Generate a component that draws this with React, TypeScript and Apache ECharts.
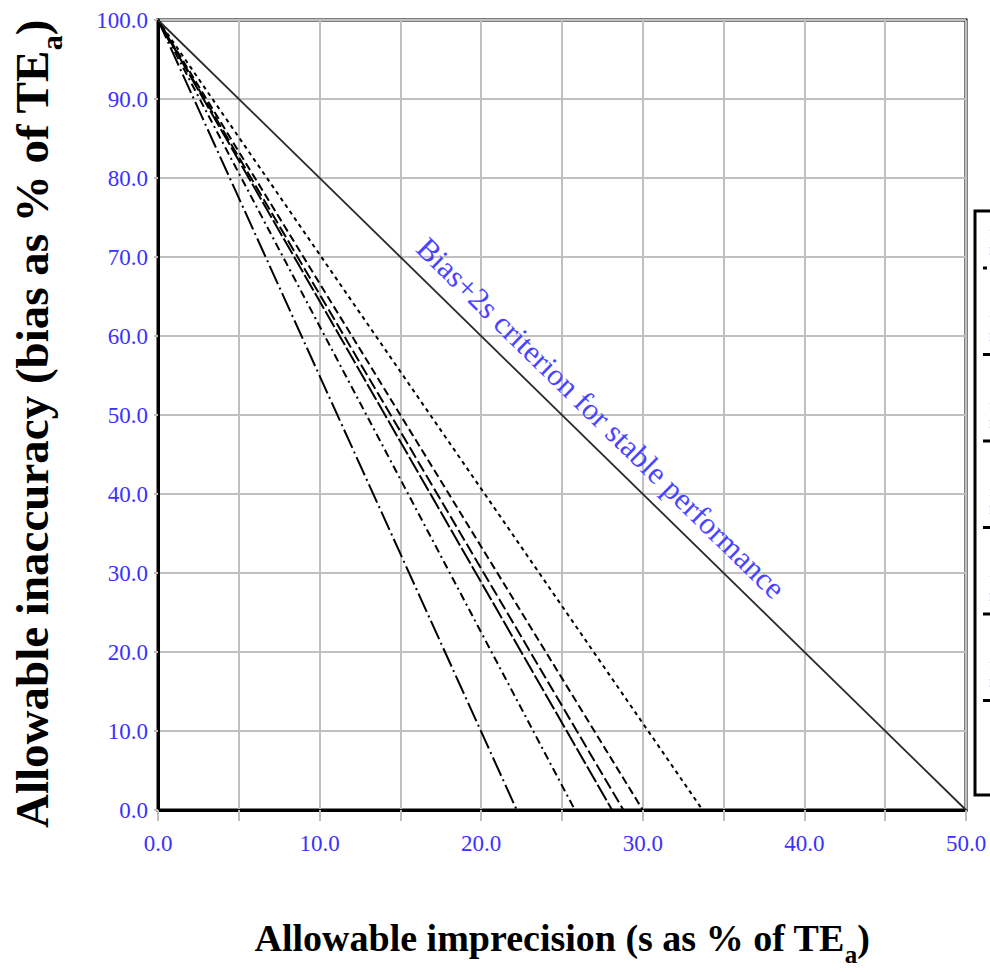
import React, { useEffect, useRef } from 'react';
import * as echarts from 'echarts';

// ---- data ----
const ruleNames = ['1:2.5s', '13s/22s/R4s/41s', '1:3s', '13s/22s/R4s', '1:2.5s', '1:3s'];
const ruleSubtitles = ['N=4, R=1', 'N=4, R=1', 'N=4, R=1', 'N=2, R=1', 'N=2, R=1', 'N=2, R=1'];
// allowable imprecision (x) where each QC line reaches zero bias
const imprecisionAtZeroBias = [33.7, 30.0, 28.8, 28.1, 25.8, 22.2];
// allowable inaccuracy (y) at zero imprecision, shared by all lines
const biasAtZeroImprecision = 100.0;
// bias + 2s criterion end point
const criterionImprecision = 50.0;
const criterionLabel = 'Bias+2s criterion for stable performance';
const xTitle = '{t|Allowable imprecision (s as % of TE}{s|a}{t|)}';
const yTitle = '{t|Allowable inaccuracy (bias as % of TE}{s|a}{t|)}';

// ---- styles ----
const dashStyles: number[][] = [
  [4, 4],
  [8, 4],
  [12, 4],
  [18, 3],
  [8, 4, 2, 4],
  [20, 4, 2, 4],
];
const serif = '"Liberation Serif", "Times New Roman", serif';
const tickColor = '#3b30ff';

export default function App() {
  const ref = useRef<HTMLDivElement>(null);

  useEffect(() => {
    if (!ref.current) return;
    const chart = echarts.init(ref.current, undefined, { renderer: 'svg' });

    const ruleSeries = imprecisionAtZeroBias.map((x, i) => ({
      type: 'line',
      name: ruleNames[i] + ' ' + ruleSubtitles[i],
      data: [
        [0, biasAtZeroImprecision],
        [x, 0],
      ],
      symbol: 'none',
      lineStyle: { color: '#000', width: 2, type: dashStyles[i] },
      z: 3,
    }));

    const criterionSeries = {
      type: 'line',
      name: 'Bias+2s',
      data: [
        [0, biasAtZeroImprecision],
        [criterionImprecision, 0],
      ],
      symbol: 'none',
      lineStyle: { color: '#2a2a2a', width: 1.8, type: 'solid' },
      z: 3,
    };

    const legendTop = 268;
    const legendStep = 86.5;
    const legendGraphics: any[] = [
      {
        type: 'rect',
        shape: { x: 975, y: 211, width: 60, height: 584 },
        style: { fill: 'none', stroke: '#000', lineWidth: 3 },
        z: 10,
      },
    ];
    ruleNames.forEach((n, i) => {
      const y = legendTop + i * legendStep;
      legendGraphics.push({
        type: 'line',
        shape: { x1: 983, y1: y, x2: 1010, y2: y },
        style: { stroke: '#000', lineWidth: 3, lineDash: dashStyles[i] },
        z: 10,
      });
      legendGraphics.push({
        type: 'text',
        x: 988.5,
        y: y - 36,
        style: { text: n, fill: '#8a6cff', font: `13px ${serif}`, verticalAlign: 'middle' },
        z: 10,
      });
      legendGraphics.push({
        type: 'text',
        x: 988.5,
        y: y - 18,
        style: { text: ruleSubtitles[i], fill: '#b89cff', font: `13px ${serif}`, verticalAlign: 'middle' },
        z: 10,
      });
    });

    const option: any = {
      animation: false,
      backgroundColor: '#fff',
      grid: {
        left: 158,
        right: 24,
        top: 20,
        bottom: 162,
        show: true,
        borderColor: '#000',
        borderWidth: 3,
        containLabel: false,
        outerBoundsMode: 'none',
      },
      xAxis: {
        type: 'value',
        min: 0,
        max: 50,
        interval: 5,
        name: xTitle,
        nameLocation: 'middle',
        nameGap: 109,
        nameTextStyle: {
          rich: {
            t: { fontFamily: serif, fontSize: 38, fontWeight: 'bold', color: '#000', lineHeight: 48, verticalAlign: 'top' },
            s: { fontFamily: serif, fontSize: 25, fontWeight: 'bold', color: '#000', lineHeight: 48, verticalAlign: 'bottom' },
          },
        },
        axisLine: { show: true, onZero: false, lineStyle: { color: '#000', width: 3 } },
        axisTick: { show: true, length: 11, lineStyle: { color: '#bcbcbc', width: 2 } },
        axisLabel: {
          color: tickColor,
          fontFamily: serif,
          fontSize: 23,
          margin: 22,
          formatter: (v: number) => (v % 10 === 0 ? v.toFixed(1) : ''),
        },
        splitLine: { show: true, lineStyle: { color: '#c0c0c0', width: 2 } },
      },
      yAxis: {
        type: 'value',
        min: 0,
        max: 100,
        interval: 10,
        axisLine: { show: true, onZero: false, lineStyle: { color: '#000', width: 3 } },
        axisTick: { show: true, length: 4, lineStyle: { color: '#bcbcbc', width: 2 } },
        axisLabel: {
          color: tickColor,
          fontFamily: serif,
          fontSize: 23,
          margin: 10,
          formatter: (v: number) => v.toFixed(1),
        },
        splitLine: { show: true, lineStyle: { color: '#c0c0c0', width: 2 } },
      },
      series: [...ruleSeries, criterionSeries],
      graphic: [
        {
          type: 'text',
          x: 37,
          y: 424,
          rotation: Math.PI / 2,
          style: {
            text: yTitle,
            align: 'center',
            verticalAlign: 'middle',
            rich: {
              t: { fontFamily: serif, fontSize: 47, fontWeight: 'bold', fill: '#000', lineHeight: 58, verticalAlign: 'top' },
              s: { fontFamily: serif, fontSize: 30, fontWeight: 'bold', fill: '#000', lineHeight: 58, verticalAlign: 'bottom' },
            },
          },
          z: 5,
        },
        {
          type: 'text',
          x: 601,
          y: 418,
          rotation: -Math.atan2(790, 808),
          style: {
            text: criterionLabel,
            fill: '#4a44ff',
            font: `31px ${serif}`,
            textAlign: 'center',
            verticalAlign: 'middle',
          },
          z: 5,
        },
        ...legendGraphics,
      ],
    };

    chart.setOption(option);
    return () => chart.dispose();
  }, []);

  return (
    <div
      ref={ref}
      style={{ position: 'fixed', left: 0, top: 0, width: 990, height: 972, background: '#fff' }}
    />
  );
}
